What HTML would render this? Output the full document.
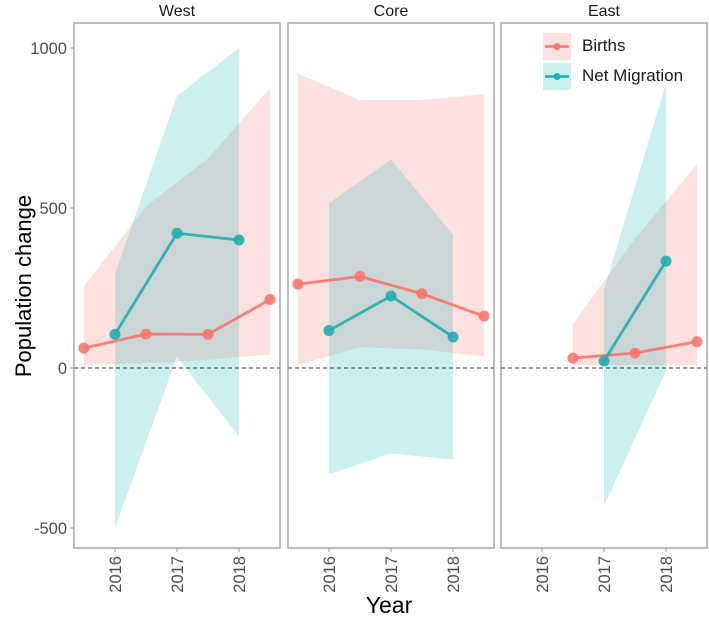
<!DOCTYPE html>
<html><head><meta charset="utf-8"><style>
html,body{margin:0;padding:0;background:#fff;}
svg{display:block;font-family:"Liberation Sans",sans-serif;}
</style></head><body>
<svg id="chart" width="709" height="620"></svg>
<script>
const panels = ["West","Core","East"];
const birthYears = [2015.5,2016.5,2017.5,2018.5];
const migYears = [2016,2017,2018];
const birthsWest = [62,106,105,214];
const birthsWestHi = [255,505,655,875];
const birthsWestLo = [10,15,25,43];
const birthsCore = [262,286,232,162];
const birthsCoreHi = [920,837,837,856];
const birthsCoreLo = [9,65,58,36];
const birthsEastYears = [2016.5,2017.5,2018.5];
const birthsEast = [31,47,82];
const birthsEastHi = [137,405,638];
const birthsEastLo = [9,9,9];
const migWest = [105,421,400];
const migWestHi = [295,850,1000];
const migWestLo = [-500,35,-214];
const migCore = [117,225,97];
const migCoreHi = [515,652,416];
const migCoreLo = [-332,-267,-286];
const migEastYears = [2017,2018];
const migEast = [22,334];
const migEastHi = [245,890];
const migEastLo = [-431,-9];
const yTicks = [-500,0,500,1000];
const xTicks = [2016,2017,2018];

const NS="http://www.w3.org/2000/svg";
const svg=document.getElementById('chart');
function mk(tag,attrs,parent){const e=document.createElementNS(NS,tag);for(const k in attrs)e.setAttribute(k,attrs[k]);(parent||svg).appendChild(e);return e;}
const panelLeft=[74,288,501], panelW=206, plotTop=23, plotBottom=548;
const yScale=v=>368-v*0.32;
const xScale=(p,yr)=>panelLeft[p]+(yr-2015.34)/(2018.66-2015.34)*panelW;
const BC="#F8766D", MC="#22ADB0";
const series=[
 {b:[birthYears,birthsWest,birthsWestHi,birthsWestLo],m:[migYears,migWest,migWestHi,migWestLo]},
 {b:[birthYears,birthsCore,birthsCoreHi,birthsCoreLo],m:[migYears,migCore,migCoreHi,migCoreLo]},
 {b:[birthsEastYears,birthsEast,birthsEastHi,birthsEastLo],m:[migEastYears,migEast,migEastHi,migEastLo]}
];
function ribbon(p,d,fill,name){
  const [xs,,hi,lo]=d;let pts=[];
  xs.forEach((x,i)=>pts.push(xScale(p,x)+','+yScale(hi[i])));
  for(let i=xs.length-1;i>=0;i--)pts.push(xScale(p,xs[i])+','+yScale(lo[i]));
  const e=mk('polygon',{points:pts.join(' '),fill:fill});
  
  
}
function line(p,d,col,name){
  const [xs,v]=d;
  const e=mk('polyline',{points:xs.map((x,i)=>xScale(p,x)+','+yScale(v[i])).join(' '),fill:'none',stroke:col,'stroke-width':2.8,'stroke-opacity':0.9});
  
  
  xs.forEach((x,i)=>{
    const c=mk('circle',{cx:xScale(p,x),cy:yScale(v[i]),r:5.5,fill:col,'fill-opacity':0.9});
    
    
  });
}
panels.forEach((name,p)=>{
  const t=mk('text',{x:panelLeft[p]+panelW/2,y:16,'text-anchor':'middle','font-size':16,fill:'#1a1a1a'});
  t.textContent=name;
  
  
  const s=series[p];
  ribbon(p,s.b,'rgba(248,118,109,0.22)','births-ribbon');
  ribbon(p,s.m,'rgba(0,175,180,0.2)','migration-ribbon');
  const z=mk('line',{x1:panelLeft[p],x2:panelLeft[p]+panelW,y1:yScale(0),y2:yScale(0),stroke:'#333','stroke-width':1,'stroke-dasharray':'4,3'});
  
  
  line(p,s.b,BC,'births');
  line(p,s.m,MC,'migration');
  const r=mk('rect',{x:panelLeft[p],y:plotTop,width:panelW,height:plotBottom-plotTop,fill:'none',stroke:'#999','stroke-width':1.3});
  
  
  xTicks.forEach(yr=>{
    const x=xScale(p,yr);
    mk('line',{x1:x,x2:x,y1:plotBottom,y2:plotBottom+4,stroke:'#999'});
    const tl=mk('text',{transform:`translate(${x+6},${plotBottom+8}) rotate(-90)`,'text-anchor':'end','font-size':16.5,fill:'#4d4d4d'});
    tl.textContent=yr;
    
    
  });
});
yTicks.forEach(v=>{
  const y=yScale(v);
  mk('line',{x1:70,x2:74,y1:y,y2:y,stroke:'#999'});
  const tl=mk('text',{x:67,y:y+6,'text-anchor':'end','font-size':16.5,fill:'#4d4d4d'});
  tl.textContent=v;
  
  
});
const yl=mk('text',{transform:'translate(31,286) rotate(-90)','text-anchor':'middle','font-size':22,fill:'#000'});
yl.textContent='Population change';


const xl=mk('text',{x:389,y:613,'text-anchor':'middle','font-size':23,fill:'#000'});
xl.textContent='Year';


const legend=[['Births','rgba(248,118,109,0.22)',BC,33],['Net Migration','rgba(0,175,180,0.2)',MC,63]];
legend.forEach(([lab,fill,col,y])=>{
  const g=mk('g',{});
  
  
  mk('rect',{x:543,y:y,width:28,height:27,fill:fill},g);
  mk('line',{x1:545,x2:569,y1:y+13.5,y2:y+13.5,stroke:col,'stroke-width':2.4},g);
  mk('circle',{cx:557,cy:y+13.5,r:3.5,fill:col},g);
  const t=mk('text',{x:582,y:y+18,'font-size':17,fill:'#1a1a1a'},g);
  t.textContent=lab;
});
</script>
</body></html>
